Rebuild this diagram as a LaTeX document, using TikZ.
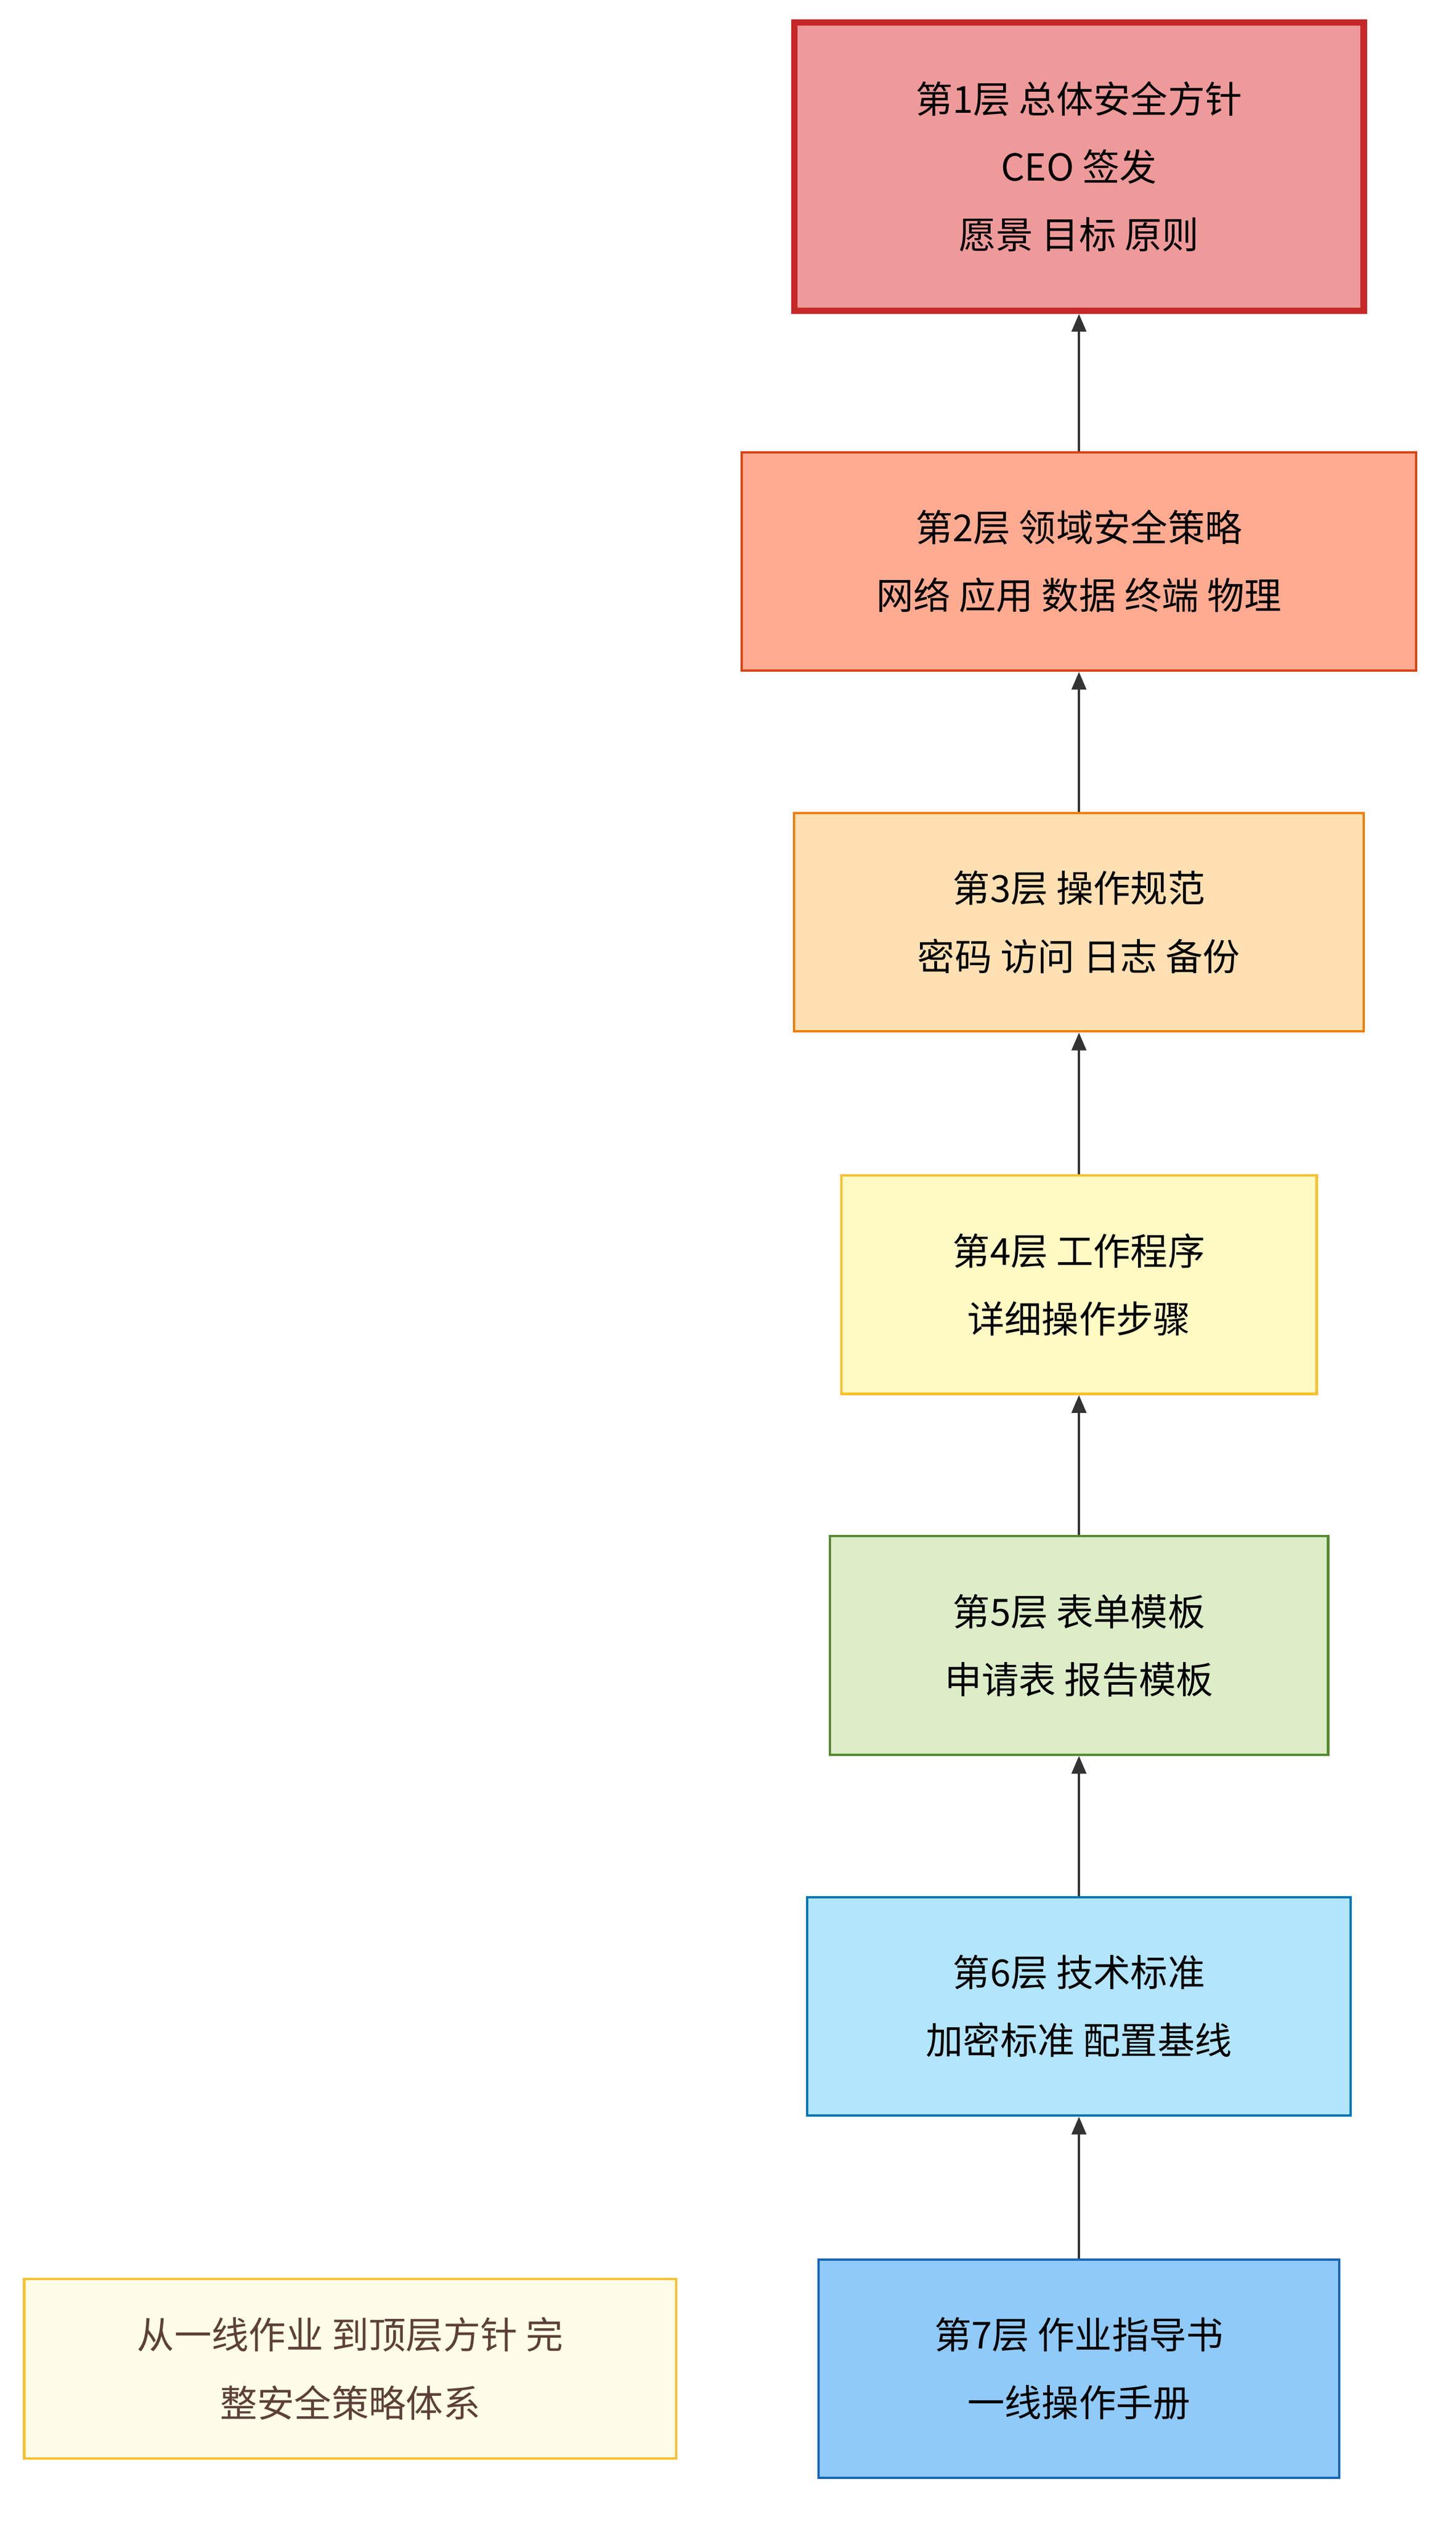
\documentclass[tikz,border=0pt]{standalone}
\usepackage{fontspec}
\setmainfont{Noto Sans CJK SC}
\usetikzlibrary{arrows.meta}
\definecolor{f1}{HTML}{EF9A9A}\definecolor{s1}{HTML}{C62828}
\definecolor{f2}{HTML}{FFAB91}\definecolor{s2}{HTML}{D84315}
\definecolor{f3}{HTML}{FFE0B2}\definecolor{s3}{HTML}{F57C00}
\definecolor{f4}{HTML}{FFF9C4}\definecolor{s4}{HTML}{FBC02D}
\definecolor{f5}{HTML}{DCEDC8}\definecolor{s5}{HTML}{558B2F}
\definecolor{f6}{HTML}{B3E5FC}\definecolor{s6}{HTML}{0277BD}
\definecolor{f7}{HTML}{90CAF9}\definecolor{s7}{HTML}{1565C0}
\definecolor{fn}{HTML}{FFFDE7}\definecolor{tn}{HTML}{5D4037}
\definecolor{ar}{HTML}{333333}
\begin{document}
\begin{tikzpicture}[x=1pt,y=-1pt,
 box/.style={draw,line width=1.5pt,align=center,inner sep=0pt,font=\fontsize{23}{42}\selectfont},
 arr/.style={draw=ar,line width=1.5pt,-{Triangle[length=11pt,width=9pt]}}]
\useasboundingbox[fill=white] (0,0) rectangle (900,1560);
\node[box,fill=f1,draw=s1,line width=4pt,minimum width=352,minimum height=178] (n1) at (667,103) {第1层 总体安全方针\\CEO 签发\\愿景 目标 原则};
\node[box,fill=f2,draw=s2,minimum width=417,minimum height=135] (n2) at (667,347) {第2层 领域安全策略\\网络 应用 数据 终端 物理};
\node[box,fill=f3,draw=s3,minimum width=352,minimum height=135] (n3) at (667,570) {第3层 操作规范\\密码 访问 日志 备份};
\node[box,fill=f4,draw=s4,minimum width=294,minimum height=135] (n4) at (667,794) {第4层 工作程序\\详细操作步骤};
\node[box,fill=f5,draw=s5,minimum width=308,minimum height=135] (n5) at (667,1017) {第5层 表单模板\\申请表 报告模板};
\node[box,fill=f6,draw=s6,minimum width=336,minimum height=135] (n6) at (667,1240) {第6层 技术标准\\加密标准 配置基线};
\node[box,fill=f7,draw=s7,minimum width=322,minimum height=135] (n7) at (667,1464) {第7层 作业指导书\\一线操作手册};
\node[box,fill=fn,draw=s4,text=tn,minimum width=403,minimum height=111] (note) at (216.5,1464) {从一线作业 到顶层方针 完\\整安全策略体系};
\draw[arr] (n7) -- (n6);
\draw[arr] (n6) -- (n5);
\draw[arr] (n5) -- (n4);
\draw[arr] (n4) -- (n3);
\draw[arr] (n3) -- (n2);
\draw[arr] (n2) -- (n1);
\end{tikzpicture}
\end{document}
